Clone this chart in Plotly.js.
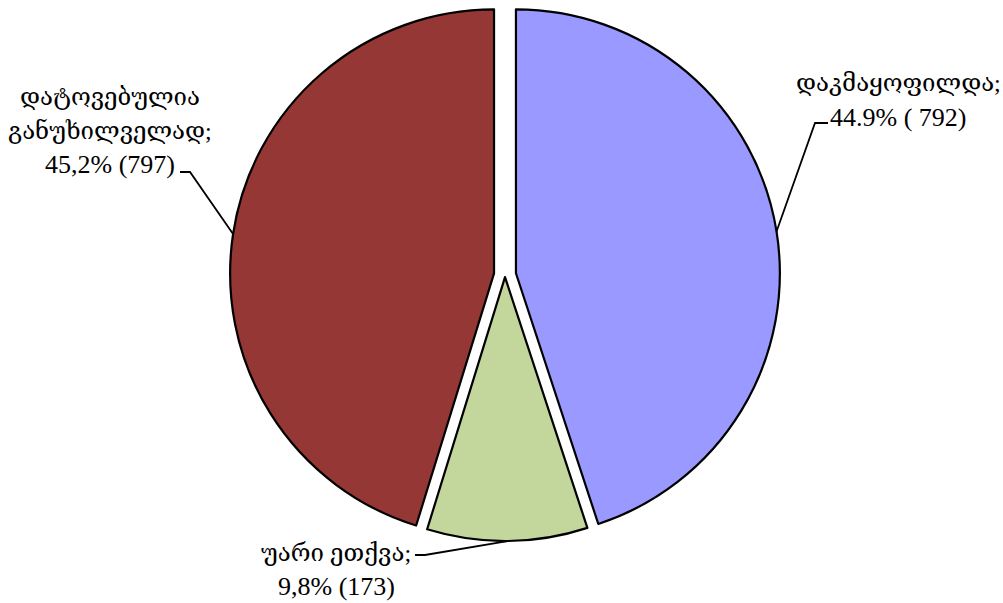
<!DOCTYPE html>
<html>
<head>
<meta charset="utf-8">
<script src="https://cdn.plot.ly/plotly-3.0.1.min.js"></script>
<style>html,body{margin:0;padding:0;background:#fff;}#chart{width:1003px;height:603px;}</style>
</head>
<body>
<div id="chart"></div>
<script>
var categories = ["დაკმაყოფილდა", "უარი ეთქვა", "დატოვებულია განუხილველად"];
var values = [792, 173, 797];
var colors = ["#9999FF", "#C3D69B", "#953735"];
var labelLines = [
  ["დაკმაყოფილდა;", "44.9% ( 792)"],
  ["უარი ეთქვა;", "9,8% (173)"],
  ["დატოვებულია", "განუხილველად;", "45,2% (797)"]
];
var pulls = [0.042, 0.008, 0.042];

var W = 1003, H = 603;
var FONT = "'Liberation Serif', 'DejaVu Serif', serif";
var FS_GEO = 24, FS_NUM = 26;

// label block layout (pixel): center x, first line center y, line step, leader corner and end
var labelPos = [
  {x: 898, y: 83, step: 34, corner: [815, 123], end: [828, 123]},
  {x: 336, y: 553, step: 33, corner: [425, 555], end: [415, 555]},
  {x: 110, y: 97, step: 34, corner: [190, 172], end: [180, 172]}
];

var domX = [10 / W, 1000 / W];
var domY = [53 / H, 1];

var trace = {
  type: "pie",
  labels: categories,
  values: values,
  sort: false,
  direction: "clockwise",
  rotation: 0,
  pull: pulls,
  textinfo: "none",
  hoverinfo: "label+value+percent",
  marker: {colors: colors, line: {color: "#000000", width: 2.2}},
  domain: {x: domX, y: domY},
  showlegend: false
};

var layout = {
  width: W, height: H,
  margin: {l: 0, r: 0, t: 0, b: 0},
  paper_bgcolor: "#ffffff",
  showlegend: false,
  font: {family: FONT, size: FS_GEO, color: "#000000"}
};

function px2x(p) { return p / W; }
function py2y(p) { return 1 - p / H; }

Plotly.newPlot("chart", [trace], layout, {displayModeBar: false, staticPlot: true}).then(function (gd) {
  var cd0 = gd.calcdata[0][0];
  var cx = cd0.cx, cy = cd0.cy, r = cd0.r;
  var total = values.reduce(function (a, b) { return a + b; }, 0);
  var shapes = [], annotations = [];
  var cum = 0;
  for (var i = 0; i < values.length; i++) {
    var frac = values[i] / total;
    var mid = (cum + frac / 2) * 2 * Math.PI;
    cum += frac;
    var sx = Math.sin(mid), sy = -Math.cos(mid);
    var ox = cx + pulls[i] * r * sx, oy = cy + pulls[i] * r * sy;
    var start = [ox + r * sx, oy + r * sy];
    var lp = labelPos[i];
    var path = "M" + px2x(start[0]) + "," + py2y(start[1]) +
      " L" + px2x(lp.corner[0]) + "," + py2y(lp.corner[1]) +
      " L" + px2x(lp.end[0]) + "," + py2y(lp.end[1]);
    shapes.push({type: "path", xref: "paper", yref: "paper", path: path,
      line: {color: "#000000", width: 1.8}});
    var n = labelLines[i].length;
    for (var j = 0; j < n; j++) {
      annotations.push({
        xref: "paper", yref: "paper",
        x: px2x(lp.x), y: py2y(lp.y + j * lp.step),
        xanchor: "center", yanchor: "middle",
        text: labelLines[i][j], showarrow: false,
        font: {family: FONT, size: (j === n - 1 ? FS_NUM : FS_GEO), color: "#000000"}
      });
    }
  }
  return Plotly.relayout(gd, {shapes: shapes, annotations: annotations});
});
</script>
</body>
</html>
